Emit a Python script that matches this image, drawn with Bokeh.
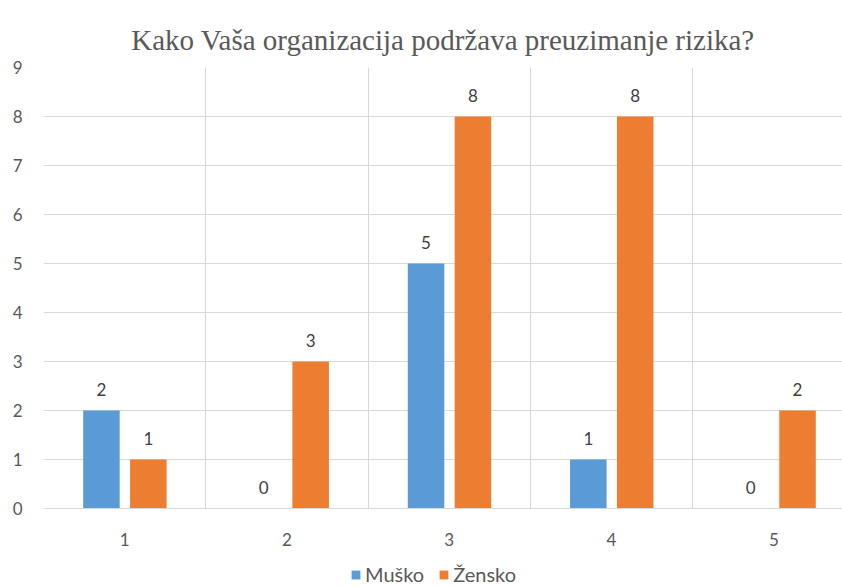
from bokeh.plotting import figure
from bokeh.layouts import column
from bokeh.models import ColumnDataSource, Range1d, FixedTicker, Legend, LegendItem
from bokeh.transform import dodge
from bokeh.core.properties import value
from bokeh.embed import file_html
from bokeh.resources import INLINE

categories = [1, 2, 3, 4, 5]
cat_labels = ["1", "2", "3", "4", "5"]
musko = [2, 0, 5, 1, 0]
zensko = [1, 3, 8, 8, 2]
y_ticks = [0, 1, 2, 3, 4, 5, 6, 7, 8, 9]
series_names = ["Muško", "Žensko"]

src = ColumnDataSource(dict(
    x=categories, m=musko, z=zensko,
    ml=[str(v) for v in musko], zl=[str(v) for v in zensko],
))

blue = "#5B9BD5"
orange = "#ED7D31"
text_col = "#595959"

p = figure(width=842, height=550, output_backend="svg", toolbar_location=None,
           x_range=Range1d(0.5, 5.423), y_range=Range1d(0, 9),
           title="Kako Vaša organizacija podržava preuzimanje rizika?",
           min_border_left=43, min_border_right=0, min_border_top=67, min_border_bottom=42)
p.outline_line_color = None
p.title.align = "center"
p.title.text_font = "Liberation Serif"
p.title.text_font_size = "29px"
p.title.text_font_style = "normal"
p.title.text_color = text_col
p.title.offset = 0
p.title.standoff = 24

p.vbar(x=dodge("x", -0.143, range=p.x_range), top="m", width=0.225, source=src,
       fill_color=blue, line_color=None)
p.vbar(x=dodge("x", 0.146, range=p.x_range), top="z", width=0.225, source=src,
       fill_color=orange, line_color=None)

lbl_kw = dict(text_font=value("Lato"), text_font_size="17px", text_color="#404040",
              text_align="center", text_baseline="middle", y_offset=-21)
p.text(x=dodge("x", -0.143, range=p.x_range), y="m", text="ml", source=src, **lbl_kw)
p.text(x=dodge("x", 0.146, range=p.x_range), y="z", text="zl", source=src, **lbl_kw)

# axes
p.xaxis.ticker = FixedTicker(ticks=categories)
p.xaxis.major_label_overrides = {c: l for c, l in zip(categories, cat_labels)}
p.xaxis.axis_line_color = "#D9D9D9"
p.xaxis.major_tick_line_color = None
p.xaxis.minor_tick_line_color = None
p.xaxis.major_label_standoff = 18
p.xaxis.major_label_text_font = "Lato"
p.xaxis.major_label_text_font_size = "17px"
p.xaxis.major_label_text_color = text_col

p.yaxis.ticker = FixedTicker(ticks=y_ticks)
p.yaxis.axis_line_color = None
p.yaxis.major_tick_line_color = None
p.yaxis.minor_tick_line_color = None
p.yaxis.major_label_standoff = 15
p.yaxis.major_label_text_font = "Lato"
p.yaxis.major_label_text_font_size = "17px"
p.yaxis.major_label_text_color = text_col

p.ygrid.ticker = FixedTicker(ticks=y_ticks)
p.ygrid.grid_line_color = "#D9D9D9"
p.xgrid.ticker = FixedTicker(ticks=[0.5, 1.5, 2.5, 3.5, 4.5, 5.5])
p.xgrid.grid_line_color = "#D9D9D9"

# legend strip below the chart (zero-height placeholder bars carry the legend swatches)
p2 = figure(width=842, height=37, output_backend="svg", toolbar_location=None,
            min_border=0, x_range=Range1d(0, 1), y_range=Range1d(0, 1))
p2.outline_line_color = None
p2.axis.visible = False
p2.grid.visible = False
d1 = p2.vbar(x=[0], top=[0], width=0.01, fill_color=blue, line_color=None)
d2 = p2.vbar(x=[0], top=[0], width=0.01, fill_color=orange, line_color=None)
legend = Legend(items=[LegendItem(label=series_names[0], renderers=[d1]),
                       LegendItem(label=series_names[1], renderers=[d2])],
                orientation="horizontal", location=(307, 1),
                label_text_font="Lato", label_text_font_size="20px", label_text_color=text_col,
                glyph_width=11, glyph_height=11, spacing=14, label_standoff=4,
                border_line_color=None, padding=0, margin=0, background_fill_alpha=0)
p2.add_layout(legend)

layout = column(p, p2, spacing=0)
open("out.html", "w").write(file_html(layout, INLINE))
